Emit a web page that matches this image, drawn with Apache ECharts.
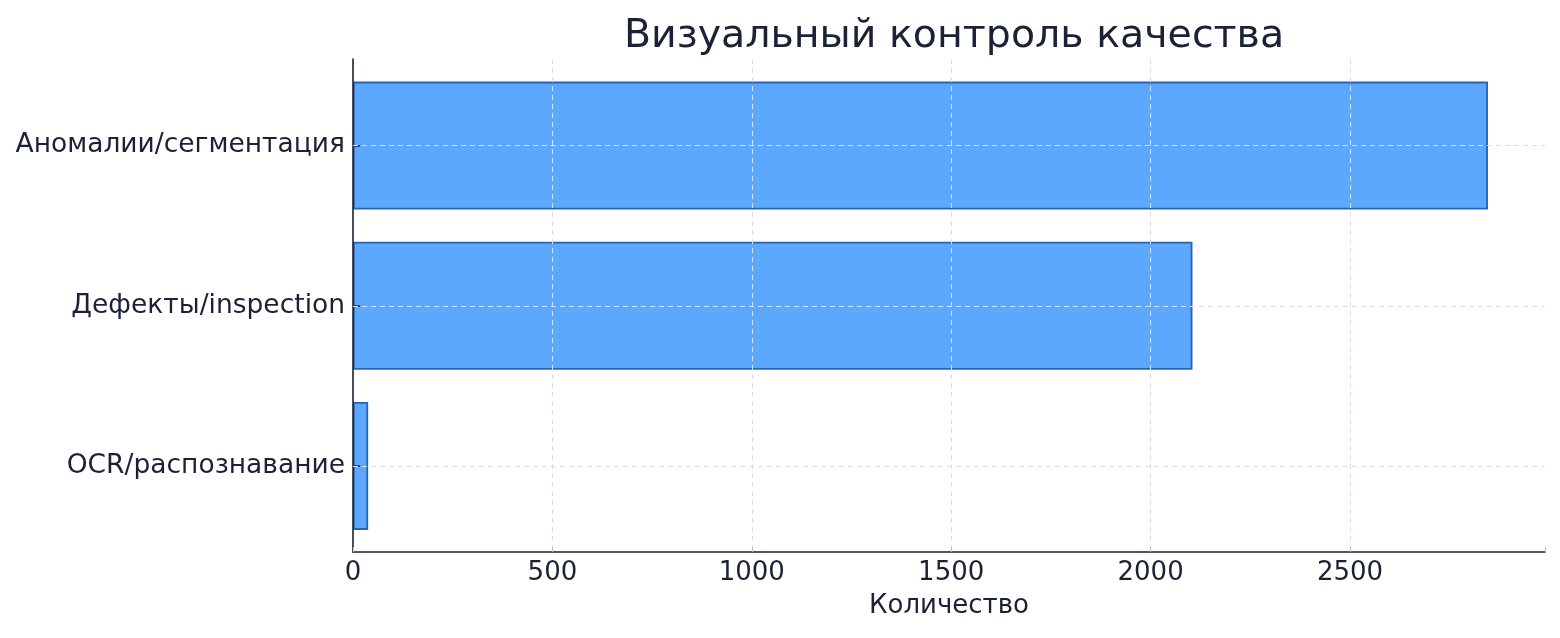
<!DOCTYPE html>
<html><head><meta charset="utf-8">
<script src="https://cdn.jsdelivr.net/npm/echarts@6/dist/echarts.min.js"></script>
<style>html,body{margin:0;padding:0;background:#fff}#c{width:1560px;height:638px}</style>
</head><body><div id="c"></div>
<script>
const title = 'Визуальный контроль качества';
const categories = ['OCR/распознавание', 'Дефекты/inspection', 'Аномалии/сегментация'];
const values = [38, 2105, 2846];
const xTicks = [0, 500, 1000, 1500, 2000, 2500];
const xName = 'Количество';
const xMax = 2989;

const txt = '#1b2236';
const gridCol = '#d9dfe8';
const font = 'DejaVu Sans';
const chart = echarts.init(document.getElementById('c'), null, {renderer: 'canvas'});
chart.setOption({
  backgroundColor: '#ffffff',
  animation: false,
  textStyle: {fontFamily: font},
  title: {text: title, left: 949, top: 12, textAlign: 'center',
    textStyle: {fontFamily: font, fontSize: 39.5, fontWeight: 'normal', color: txt}},
  grid: [
    {left: 353, right: 15, top: 59, bottom: 86},
    {left: 353, right: 15, top: 65.5, bottom: 92}
  ],
  xAxis: [
    {type: 'value', gridIndex: 0, min: 0, max: xMax, interval: 500, z: 3,
     name: xName, nameLocation: 'middle', nameGap: 41,
     nameTextStyle: {fontFamily: font, fontSize: 26, color: txt},
     axisLine: {show: true, lineStyle: {color: txt, width: 1.6}},
     axisTick: {show: true, inside: true, length: 5, lineStyle: {color: '#b8c0cc'}},
     axisLabel: {fontFamily: font, fontSize: 26, color: txt, margin: 8,
       formatter: v => xTicks.indexOf(v) >= 0 ? String(v) : ''},
     splitLine: {show: true, lineStyle: {color: ['rgba(0,0,0,0)', gridCol, gridCol, gridCol, gridCol, gridCol, 'rgba(0,0,0,0)'], type: [5, 4], width: 1}}},
    {type: 'value', gridIndex: 1, min: 0, max: xMax, show: false}
  ],
  yAxis: [
    {type: 'category', gridIndex: 0, data: categories, z: 3,
     axisLine: {show: true, lineStyle: {color: txt, width: 1.6}},
     axisTick: {show: false}, axisLabel: {show: false}, splitLine: {show: false}},
    {type: 'category', gridIndex: 1, data: categories, z: 3,
     axisLine: {show: false},
     axisTick: {show: true, inside: true, alignWithLabel: true, length: 7, lineStyle: {color: txt, width: 1.5}},
     axisLabel: {fontFamily: font, fontSize: 26.5, color: txt, margin: 8},
     splitLine: {show: false}}
  ],
  series: [{
    type: 'bar', xAxisIndex: 1, yAxisIndex: 1, data: values, barWidth: 128,
    itemStyle: {color: '#5ca8ff', borderColor: '#2a63b4', borderWidth: 1.8},
    markLine: {
      silent: true, symbol: ['none', 'none'], label: {show: false},
      lineStyle: {color: gridCol, type: [5, 4], width: 1},
      data: categories.map(c => ({yAxis: c}))
    }
  }]
});
</script></body></html>
